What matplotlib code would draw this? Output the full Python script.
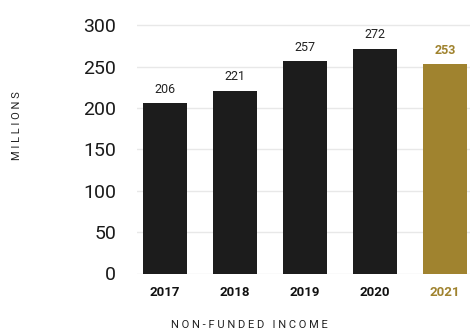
import matplotlib.pyplot as plt

plt.rcParams['font.family'] = ['Roboto', 'DejaVu Sans']

years = ['2017', '2018', '2019', '2020', '2021']
income = [206, 221, 257, 272, 253]
yticks = [0, 50, 100, 150, 200, 250, 300]

dark = '#1c1c1c'
gold = '#a0832f'
colors = [dark, dark, dark, dark, gold]

fig = plt.figure(figsize=(4.7, 3.32), dpi=100)
ax = fig.add_axes([137 / 470, 1 - 273.5 / 332, 1 - 137 / 470, 273.5 / 332])

x = range(len(years))
bars = ax.bar(x, income, width=0.63, color=colors, zorder=3)

# value labels above each bar
for i, (b, v) in enumerate(zip(bars, income)):
    last = i == len(years) - 1
    ax.text(b.get_x() + b.get_width() / 2, v + 9, str(v),
            ha='center', va='bottom', fontsize=9,
            fontweight='bold' if last else 'normal',
            color=gold if last else '#222222')

ax.set_xlim(-0.4, 4.357)
ax.set_ylim(0, 273.5 / 0.8267)
ax.set_yticks(yticks)
ax.set_yticklabels([str(t) for t in yticks], fontsize=14, color='#1a1a1a')
ax.yaxis.grid(True, color='#e8e8e8', linewidth=1, zorder=0)
ax.tick_params(axis='y', length=0, pad=15)
ax.tick_params(axis='x', length=0, pad=9)

ax.set_xticks(list(x))
ax.set_xticklabels(years, fontsize=9.5, fontweight='bold')
for lbl, c in zip(ax.get_xticklabels(), colors):
    lbl.set_color('#111111' if c == dark else gold)

for s in ax.spines.values():
    s.set_visible(False)

fig.text(249 / 470, 1 - 325 / 332, ' '.join('NON-FUNDED INCOME'),
         ha='center', va='center', fontsize=8, color='#222222')
fig.text(17 / 470, 1 - 126 / 332, ' '.join('MILLIONS'),
         ha='center', va='center', rotation=90, fontsize=8, color='#222222')

fig.savefig('out.png', dpi=100)
